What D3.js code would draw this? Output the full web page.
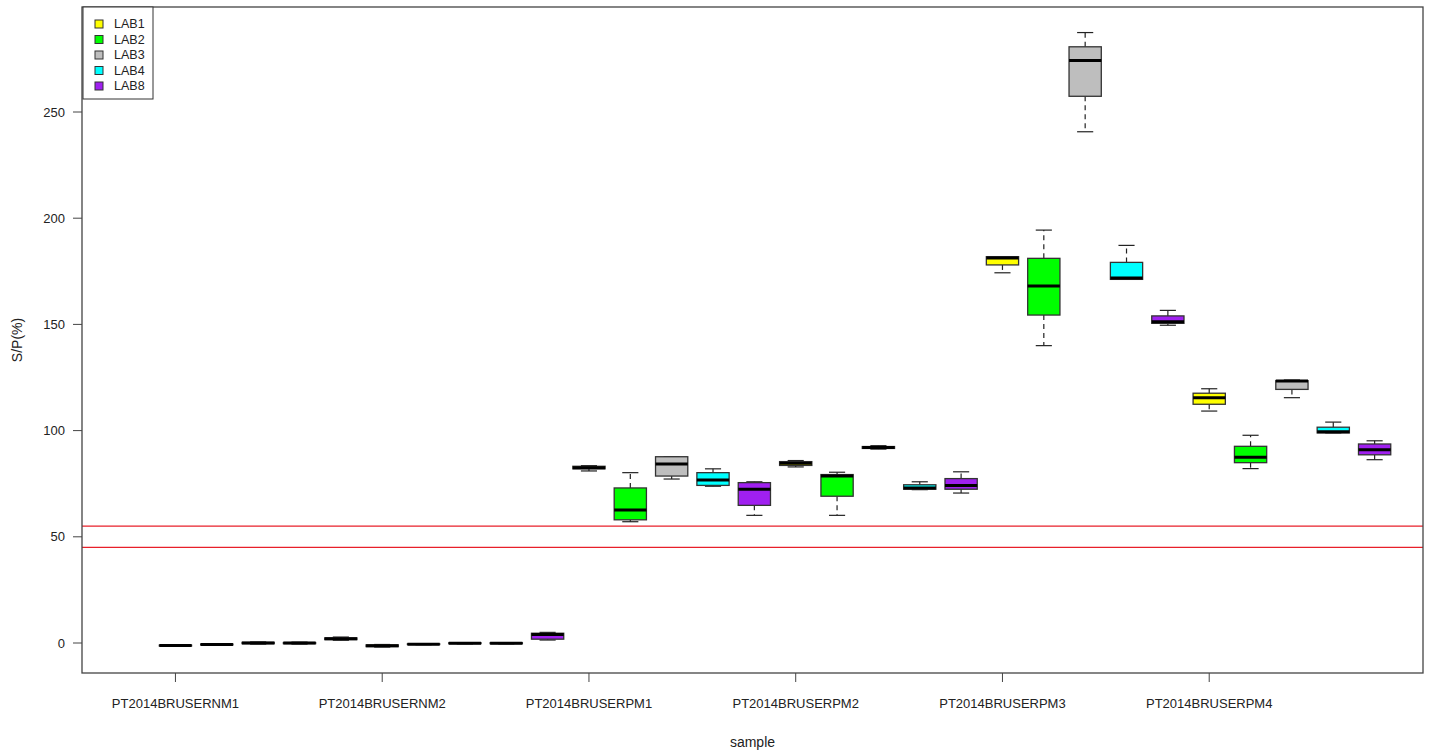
<!DOCTYPE html>
<html lang="en">
    <head>
        <meta charset="utf-8">
        <title>S/P boxplots by sample</title>
        <script src="https://d3js.org/d3.v7.min.js"></script>
        <style type="text/css">
            body {
                margin: 0;
                background: white;
            }
            text {
                font-family: "Liberation Sans", Arial, sans-serif;
            }
            .tick-label {
                font-size: 13px;
                fill: #222;
            }
            .axis-title {
                font-size: 14px;
                fill: #222;
            }
            .legend-label {
                font-size: 12.5px;
                fill: #222;
            }
        </style>
    </head>
    <body>
        <svg width="1431" height="754"></svg>
        <script type="text/javascript">

            // data: five-number summary per box [low whisker, q1, median, q3, high whisker]
            const samples = ["PT2014BRUSERNM1", "PT2014BRUSERNM2", "PT2014BRUSERPM1",
                             "PT2014BRUSERPM2", "PT2014BRUSERPM3", "PT2014BRUSERPM4"];
            const labs = ["LAB1", "LAB2", "LAB3", "LAB4", "LAB8"];
            const labColors = ["#ffff00", "#00ff00", "#bebebe", "#00ffff", "#a020f0"];

            const lab1 = [[-1.5, -1.4, -1.2, -1.0, -0.9], [-1.9, -1.7, -1.3, -0.9, -0.7],
                          [81.0, 82.0, 82.5, 83.2, 83.5], [82.9, 83.6, 84.6, 85.4, 85.9],
                          [174.3, 178.0, 181.3, 181.9, 181.9], [109.2, 112.4, 115.5, 117.6, 119.7]];
            const lab2 = [[-1.0, -0.9, -0.7, -0.5, -0.4], [-0.8, -0.7, -0.6, -0.4, -0.3],
                          [57.1, 58.0, 62.6, 73.0, 80.2], [60.1, 69.1, 78.6, 79.3, 80.4],
                          [140.0, 154.4, 168.1, 181.1, 194.4], [82.1, 84.9, 87.4, 92.6, 97.8]];
            const lab3 = [[-0.5, -0.3, 0.0, 0.3, 0.5], [-0.4, -0.3, -0.1, 0.1, 0.2],
                          [77.2, 78.6, 84.3, 87.7, 87.7], [91.3, 91.6, 92.0, 92.5, 92.9],
                          [240.7, 257.4, 274.2, 280.7, 287.4], [115.5, 119.4, 123.4, 123.5, 123.8]];
            const lab4 = [[-0.5, -0.3, 0.0, 0.2, 0.4], [-0.4, -0.3, -0.1, 0.1, 0.2],
                          [73.8, 74.2, 76.7, 80.2, 82.0], [72.2, 72.4, 73.0, 74.5, 75.9],
                          [171.2, 171.2, 171.8, 179.2, 187.2], [98.9, 98.9, 99.5, 101.6, 104.0]];
            const lab8 = [[1.3, 1.6, 2.0, 2.4, 2.8], [1.4, 1.8, 4.0, 4.6, 5.0],
                          [60.1, 64.8, 72.4, 75.5, 75.9], [70.6, 72.4, 74.1, 77.4, 80.6],
                          [149.6, 150.5, 151.3, 154.0, 156.6], [86.3, 88.6, 91.0, 93.7, 95.2]];
            const labData = [lab1, lab2, lab3, lab4, lab8];

            const yTicks = [0, 50, 100, 150, 200, 250];
            const cutoffs = [45, 55];

            const svg = d3.select("svg");

            // plot region (pixels)
            const plotLeft = 82, plotRight = 1423, plotTop = 7, plotBottom = 673;

            // box positions 1..30, grouped by sample then lab
            const boxes = [];
            samples.forEach((s, si) => {
                labs.forEach((l, li) => {
                    const v = labData[li][si];
                    boxes.push({pos: si * labs.length + li + 1, lab: li,
                                lo: v[0], q1: v[1], med: v[2], q3: v[3], hi: v[4]});
                });
            });

            const x = d3.scaleLinear()
                        .domain([-1.26, 31.17])
                        .range([plotLeft, plotRight]);

            const y = d3.scaleLinear()
                        .domain([0, 250])
                        .range([643, 112]);

            const boxW = x(1.78) - x(1);
            const capW = boxW / 2;

            //cutoff lines
            svg.selectAll("line.cutoff")
               .data(cutoffs)
               .enter()
               .append("line")
               .attr("class", "cutoff")
               .attr("x1", plotLeft)
               .attr("x2", plotRight)
               .attr("y1", d => y(d))
               .attr("y2", d => y(d))
               .attr("stroke", "#e8202a")
               .attr("stroke-width", 1.2);

            //boxes
            const g = svg.selectAll("g.box")
                         .data(boxes)
                         .enter()
                         .append("g")
                         .attr("class", "box")
                         .attr("transform", d => "translate(" + x(d.pos) + ",0)");

            // whiskers (dashed)
            g.append("line")
             .attr("x1", 0).attr("x2", 0)
             .attr("y1", d => y(d.q3)).attr("y2", d => y(d.hi))
             .attr("stroke", "#222")
             .attr("stroke-width", 1.2)
             .attr("stroke-dasharray", "5,4");
            g.append("line")
             .attr("x1", 0).attr("x2", 0)
             .attr("y1", d => y(d.q1)).attr("y2", d => y(d.lo))
             .attr("stroke", "#222")
             .attr("stroke-width", 1.2)
             .attr("stroke-dasharray", "5,4");

            // staples
            g.append("line")
             .attr("x1", -capW / 2).attr("x2", capW / 2)
             .attr("y1", d => y(d.hi)).attr("y2", d => y(d.hi))
             .attr("stroke", "#222")
             .attr("stroke-width", 1.2);
            g.append("line")
             .attr("x1", -capW / 2).attr("x2", capW / 2)
             .attr("y1", d => y(d.lo)).attr("y2", d => y(d.lo))
             .attr("stroke", "#222")
             .attr("stroke-width", 1.2);

            g.append("rect")
             .attr("x", -boxW / 2)
             .attr("width", boxW)
             .attr("y", d => y(d.q3))
             .attr("height", d => Math.max(0.5, y(d.q1) - y(d.q3)))
             .attr("fill", d => labColors[d.lab])
             .attr("stroke", "#333")
             .attr("stroke-width", 1.3);

            g.append("line")
             .attr("x1", -boxW / 2).attr("x2", boxW / 2)
             .attr("y1", d => y(d.med)).attr("y2", d => y(d.med))
             .attr("stroke", "black")
             .attr("stroke-width", 3);

            //frame
            svg.append("rect")
               .attr("x", plotLeft)
               .attr("y", plotTop)
               .attr("width", plotRight - plotLeft)
               .attr("height", plotBottom - plotTop)
               .attr("fill", "none")
               .attr("stroke", "#444")
               .attr("stroke-width", 1.3);

            //y axis
            const yAxis = svg.append("g");
            yAxis.selectAll("line")
                 .data(yTicks)
                 .enter()
                 .append("line")
                 .attr("x1", plotLeft - 9).attr("x2", plotLeft)
                 .attr("y1", d => y(d)).attr("y2", d => y(d))
                 .attr("stroke", "#444");
            yAxis.selectAll("text")
                 .data(yTicks)
                 .enter()
                 .append("text")
                 .attr("class", "tick-label")
                 .attr("x", plotLeft - 17)
                 .attr("y", d => y(d))
                 .attr("dy", "0.35em")
                 .attr("text-anchor", "end")
                 .text(d => d);

            //x axis
            const xAxis = svg.append("g");
            xAxis.selectAll("line")
                 .data(samples)
                 .enter()
                 .append("line")
                 .attr("x1", (d, i) => x(i * labs.length + 1))
                 .attr("x2", (d, i) => x(i * labs.length + 1))
                 .attr("y1", plotBottom).attr("y2", plotBottom + 9)
                 .attr("stroke", "#444");
            xAxis.selectAll("text")
                 .data(samples)
                 .enter()
                 .append("text")
                 .attr("class", "tick-label")
                 .attr("x", (d, i) => x(i * labs.length + 1))
                 .attr("y", 703)
                 .attr("dy", "0.35em")
                 .attr("text-anchor", "middle")
                 .text(d => d);

            //axis titles
            svg.append("text")
               .attr("class", "axis-title")
               .attr("x", (plotLeft + plotRight) / 2)
               .attr("y", 742)
               .attr("dy", "0.35em")
               .attr("text-anchor", "middle")
               .text("sample");

            svg.append("text")
               .attr("class", "axis-title")
               .attr("transform", "translate(17," + (plotTop + plotBottom) / 2 + ") rotate(-90)")
               .attr("dy", "0.35em")
               .attr("text-anchor", "middle")
               .text("S/P(%)");

            //legend
            const legend = svg.append("g");
            legend.append("rect")
                  .attr("x", 83).attr("y", 7)
                  .attr("width", 70).attr("height", 92)
                  .attr("fill", "white")
                  .attr("stroke", "#333");
            const items = legend.selectAll("g.item")
                                .data(labs)
                                .enter()
                                .append("g")
                                .attr("class", "item")
                                .attr("transform", (d, i) => "translate(0," + (24 + i * 15.5) + ")");
            items.append("rect")
                 .attr("x", 95).attr("y", -4)
                 .attr("width", 8).attr("height", 8)
                 .attr("fill", (d, i) => labColors[i])
                 .attr("stroke", "#333");
            items.append("text")
                 .attr("class", "legend-label")
                 .attr("x", 114)
                 .attr("dy", "0.35em")
                 .text(d => d);

        </script>
    </body>
</html>
